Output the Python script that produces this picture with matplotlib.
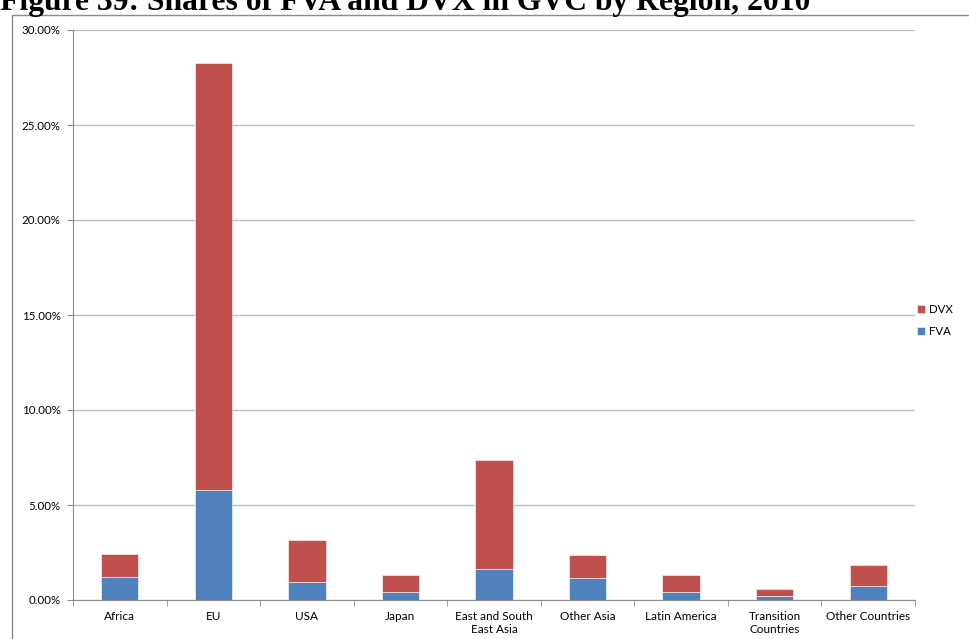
import matplotlib
matplotlib.use("Agg")
import matplotlib.pyplot as plt
from matplotlib.patches import Rectangle
from matplotlib.ticker import FuncFormatter, MultipleLocator
import numpy as np

categories = ["Africa", "EU", "USA", "Japan", "East and South\nEast Asia",
              "Other Asia", "Latin America", "Transition\nCountries", "Other Countries"]
fva = [1.19, 5.79, 0.93, 0.40, 1.61, 1.16, 0.40, 0.21, 0.72]
total = [2.42, 28.26, 3.17, 1.33, 7.35, 2.37, 1.33, 0.60, 1.86]
dvx = [t - f for t, f in zip(total, fva)]
title = "Figure 39: Shares of FVA and DVX in GVC by Region, 2010"

W, H = 970, 639
fig = plt.figure(figsize=(W / 100, H / 100), dpi=100)

# outer chart border
fig.patches.append(Rectangle((12 / W, -0.01), 1.1, 1 - 15 / H + 0.01,
                             transform=fig.transFigure, fill=False,
                             edgecolor="#8c8c8c", linewidth=1.0, zorder=0))

fig.text(0.0, 1 - 10 / H, title, ha="left", va="baseline",
         fontsize=22.8, fontweight="bold", family="Liberation Serif")

left, right, top, bottom = 73, 915, 30, 600
ax = fig.add_axes([left / W, 1 - bottom / H, (right - left) / W, (bottom - top) / H])

x = np.arange(len(categories))
ax.bar(x, fva, width=0.4, color="#4F81BD", edgecolor="white", linewidth=0.4,
       label="FVA", zorder=3)
ax.bar(x, dvx, width=0.4, bottom=fva, color="#C0504D", edgecolor="white",
       linewidth=0.4, label="DVX", zorder=3)

ax.set_ylim(0, 30)
ax.set_xlim(-0.5, len(categories) - 0.5)
ax.yaxis.set_major_locator(MultipleLocator(5))
ax.yaxis.set_major_formatter(FuncFormatter(lambda v, p: f"{v:.2f}%"))
ax.grid(axis="y", color="#bebebe", linewidth=1.0, zorder=0)

for s in ["top", "right"]:
    ax.spines[s].set_visible(False)
ax.spines["left"].set_color("#8c8c8c")
ax.spines["bottom"].set_color("#8c8c8c")

ax.set_xticks(x)
ax.set_xticklabels(categories, fontsize=8.5, family="Lato", linespacing=1.25)
ax.set_xticks(np.arange(-0.5, len(categories)), minor=True)
ax.tick_params(axis="x", which="major", length=0, pad=8)
ax.tick_params(axis="x", which="minor", length=4, color="#8c8c8c", direction="out")
ax.tick_params(axis="y", length=4, color="#8c8c8c", pad=5, labelsize=8.3)
for lab in ax.get_yticklabels():
    lab.set_family("Lato")

handles, labels = ax.get_legend_handles_labels()
leg = ax.legend(handles[::-1], labels[::-1], loc="center left",
                bbox_to_anchor=(1.0 - 8 / (right - left), 0.49), frameon=False,
                prop={"family": "Lato", "size": 8.3}, handlelength=0.7,
                handleheight=0.7, handletextpad=0.3, labelspacing=1.0)

fig.savefig("out.png", dpi=100)
